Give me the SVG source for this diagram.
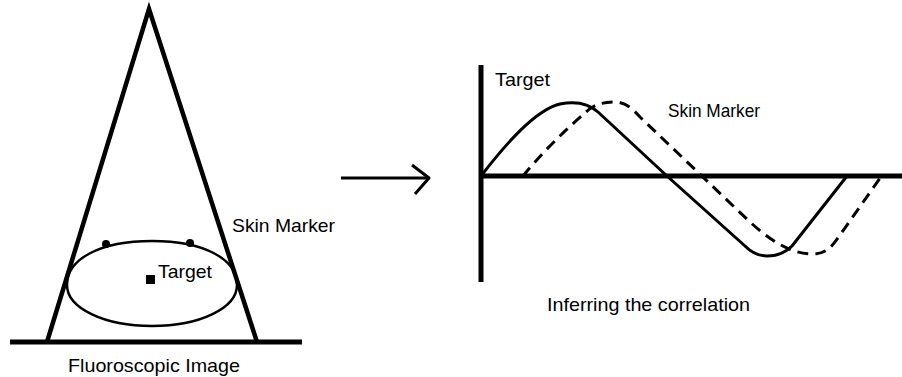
<svg xmlns="http://www.w3.org/2000/svg" width="902" height="377" viewBox="0 0 902 377">
<style>
.t{font-family:"Liberation Sans",Arial,sans-serif;font-size:19px;fill:#000}
.thick{stroke:#000;stroke-width:5;fill:none;stroke-linecap:butt}
.beam{stroke:#000;stroke-width:4.5;fill:none;stroke-linejoin:miter}
.thin{stroke:#000;stroke-width:2.5;fill:none}
.curve{stroke:#000;stroke-width:3;fill:none;stroke-linejoin:round}
.dash{stroke-dasharray:11 7}
</style>
<rect width="902" height="377" fill="#fff"/>
<g id="fluoroscopic-image">
  <polyline class="beam" points="47,342 149,9 257,342"/>
  <line class="thick" x1="10" y1="342" x2="302" y2="342"/>
  <path class="thin" d="M67,285 C67,259 100,241 152,241 C204,241 237,259 237,285 C237,308 200,326 152,326 C104,326 67,308 67,285 Z"/>
  <circle cx="106" cy="244" r="4" fill="#000"/>
  <circle cx="190" cy="243" r="4" fill="#000"/>
  <rect x="146" y="275" width="9" height="9" fill="#000"/>
  <text class="t" x="158" y="278" textLength="54" lengthAdjust="spacingAndGlyphs">Target</text>
  <text class="t" x="232" y="232" textLength="103" lengthAdjust="spacingAndGlyphs">Skin Marker</text>
  <text class="t" x="68" y="372" textLength="172" lengthAdjust="spacingAndGlyphs">Fluoroscopic Image</text>
</g>
<g id="connectors">
  <line class="curve" x1="341" y1="178" x2="428" y2="178"/>
  <polyline class="curve" points="412,165 429,178 415,194"/>
</g>
<g id="correlation-plot">
  <line class="thick" x1="481" y1="65" x2="481" y2="282"/>
  <line class="thick" x1="479" y1="176" x2="902" y2="176"/>
  <path class="curve" d="M481,176 C505,145 535,110 560,104 C575,101 588,103 598,112 L667,176 L745,246 C752,253 758,256 767,256 C777,256 785,253 792,246 L847,176"/>
  <path class="curve dash" d="M523,176 C540,155 565,130 585,113 C594,104 604,102 615,102 C625,102 632,108 640,117 L750,222 C775,245 795,254 812,254 C824,254 830,250 840,235 L883,174"/>
  <text class="t" x="495" y="86" textLength="55" lengthAdjust="spacingAndGlyphs">Target</text>
  <text class="t" x="668" y="117" textLength="92" lengthAdjust="spacingAndGlyphs">Skin Marker</text>
  <text class="t" x="547" y="311" textLength="203" lengthAdjust="spacingAndGlyphs">Inferring the correlation</text>
</g>
</svg>
